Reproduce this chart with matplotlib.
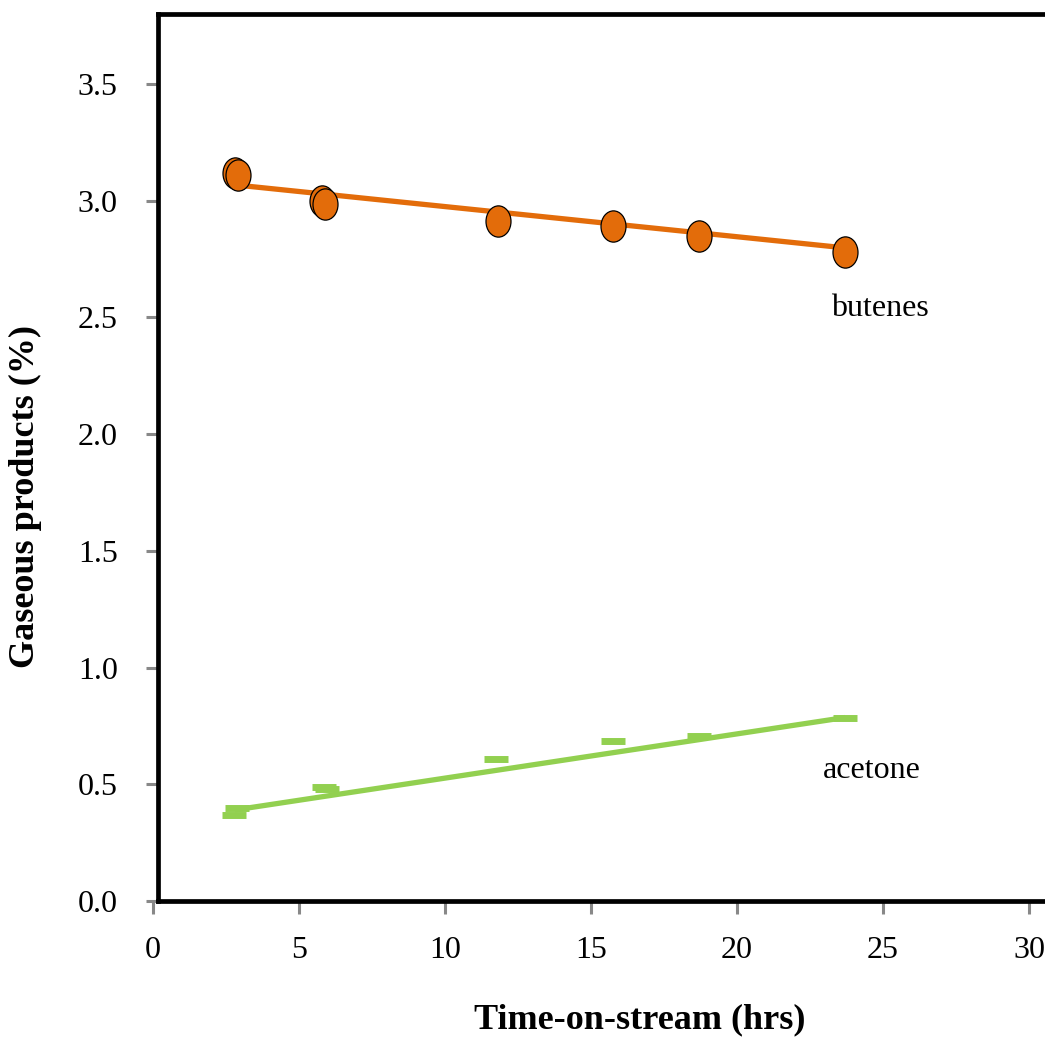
import numpy as np
import matplotlib
matplotlib.use("Agg")
import matplotlib.pyplot as plt
from matplotlib.path import Path

# Data
butenes_x = [2.8, 2.9, 5.8, 5.9, 11.8, 15.75, 18.7, 23.7]
butenes_y = [3.12, 3.11, 3.00, 2.985, 2.915, 2.89, 2.85, 2.78]
acetone_x = [2.88, 2.77, 5.85, 5.95, 11.75, 15.75, 18.7, 23.7]
acetone_y = [0.40, 0.37, 0.49, 0.48, 0.61, 0.685, 0.707, 0.782]
# trend lines (end points)
butenes_trend_x = [2.8, 23.7]
butenes_trend_y = [3.068, 2.798]
acetone_trend_x = [2.8, 23.7]
acetone_trend_y = [0.39, 0.786]
xticks = [0, 5, 10, 15, 20, 25, 30]
yticks = [0.0, 0.5, 1.0, 1.5, 2.0, 2.5, 3.0, 3.5]

orange = "#E36C0A"
green = "#92D050"
serif = ["Liberation Serif", "DejaVu Serif"]

W, H = 1045, 1037
fig = plt.figure(figsize=(W / 100, H / 100), dpi=100)
x0_px, y0_px, ytop_px = 153, 901, 14
xmax = 30.6
px_per_x = 29.2
ax_w_px = xmax * px_per_x
ax_h_px = y0_px - ytop_px
ax = fig.add_axes([x0_px / W, (H - y0_px) / H, ax_w_px / W, ax_h_px / H])
ax.set_xlim(0, xmax)
ax.set_ylim(0, 3.8)

ax.plot(butenes_trend_x, butenes_trend_y, color=orange, lw=3.8, solid_capstyle="butt", zorder=2)
ax.plot(acetone_trend_x, acetone_trend_y, color=green, lw=3.8, solid_capstyle="butt", zorder=2)

circ = Path.unit_circle()
ellipse = Path(circ.vertices * np.array([0.8, 1.0]), circ.codes)
ax.plot(butenes_x, butenes_y, marker=ellipse, ms=22.5, mfc=orange, mec="black", mew=0.9,
        ls="none", zorder=3)
ax.plot(acetone_x, acetone_y, "_", ms=17.3, mec=green, mew=5, ls="none", zorder=3)

ax.text(23.22, 2.537, "butenes", fontsize=23, family=serif, ha="left", va="center")
ax.text(22.95, 0.561, "acetone", fontsize=23, family=serif, ha="left", va="center")

ax.spines["right"].set_visible(False)
for s in ["left", "top", "bottom"]:
    ax.spines[s].set_linewidth(3.4)
    ax.spines[s].set_color("black")
ax.spines["left"].set_position(("data", 0.17))
ax.spines["bottom"].set_bounds(0.17, xmax)
ax.spines["top"].set_bounds(0.17, xmax)

ax.set_xticks(xticks)
ax.set_yticks(yticks)
ax.set_xticklabels([str(t) for t in xticks], family=serif, fontsize=23)
ax.set_yticklabels([f"{t:.1f}" for t in yticks], family=serif, fontsize=23)
ax.tick_params(axis="both", direction="out", color="#888888", width=2.2, length=9)
ax.tick_params(axis="x", pad=16)
ax.tick_params(axis="y", pad=20)

ax.set_xlabel("Time-on-stream (hrs)", family=serif, fontsize=26, fontweight="bold")
ax.set_ylabel("Gaseous products (%)", family=serif, fontsize=26, fontweight="bold")
ax.xaxis.label.set_va("center")
ax.yaxis.label.set_va("center")
ax.xaxis.set_label_coords((640 - x0_px) / ax_w_px, -(1020 - y0_px) / ax_h_px)
ax.yaxis.set_label_coords(-(x0_px - 25) / ax_w_px, (y0_px - 497) / ax_h_px)

fig.savefig("out.png", dpi=100)
